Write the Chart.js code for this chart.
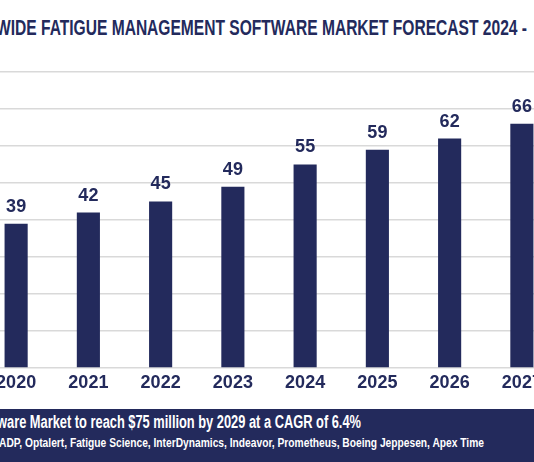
<!DOCTYPE html>
<html><head><meta charset="utf-8">
<script src="https://cdn.jsdelivr.net/npm/chart.js@4"></script>
<style>
body{margin:0;width:534px;height:462px;overflow:hidden;background:#fff;position:relative;font-family:"Liberation Sans",Arial,sans-serif}
.fit{position:absolute;white-space:nowrap;font-weight:bold;transform-origin:0 0;display:inline-block}
#title{left:-4px;top:15px;font-size:22px;color:#232a5c}
#wrap{position:absolute;left:-20px;top:0;width:578px;height:410px}
#banner{position:absolute;left:0;top:409px;width:534px;height:53px;background:#232a5c;color:#fff;white-space:nowrap}
#l1{left:-3px;top:3px;font-size:18px}
#l2{left:-1px;top:26px;font-size:13px}
</style></head><body>
<div id="title" class="fit" data-w="531">WIDE FATIGUE MANAGEMENT SOFTWARE MARKET FORECAST 2024 -</div>
<div id="wrap"><canvas id="c"></canvas></div>
<div id="banner"><div id="l1" class="fit" data-w="364">ware Market to reach $75 million by 2029 at a CAGR of 6.4%</div>
<div id="l2" class="fit" data-w="485">ADP, Optalert, Fatigue Science, InterDynamics, Indeavor, Prometheus, Boeing Jeppesen, Apex Time</div></div>
<script>
document.querySelectorAll(".fit").forEach(e=>{const w=e.getBoundingClientRect().width;e.style.transform="scaleX("+(+e.dataset.w/w)+")";});
const years=["2020","2021","2022","2023","2024","2025","2026","2027"];
const marketValues=[39,42,45,49,55,59,62,66];
const navy="#232a5c";
const labelPlugin={id:"lbl",afterDatasetsDraw(ch){
 const ctx=ch.ctx,m=ch.getDatasetMeta(0),x=ch.scales.x;
 ctx.save();ctx.fillStyle=navy;ctx.textAlign="center";
 ctx.font="bold 18px 'Liberation Sans', Arial";ctx.textBaseline="bottom";
 m.data.forEach((b,i)=>ctx.fillText(marketValues[i],b.x,b.y-8));
 ctx.textBaseline="top";
 years.forEach((y,i)=>ctx.fillText(y,x.getPixelForValue(i),374));
 ctx.restore();}};
new Chart(document.getElementById("c"),{type:"bar",
 data:{labels:years,datasets:[{data:marketValues,backgroundColor:navy,barPercentage:0.32,categoryPercentage:1}]},
 options:{responsive:true,maintainAspectRatio:false,animation:false,
  layout:{padding:{top:72,bottom:42,left:0,right:0}},
  plugins:{legend:{display:false},tooltip:{enabled:false}},
  scales:{x:{display:false,offset:true},
   y:{min:0,max:80,ticks:{display:false,stepSize:10},border:{display:false},grid:{color:"#d9d9d9",lineWidth:1.5,drawTicks:false}}}},
 plugins:[labelPlugin]});
</script></body></html>
